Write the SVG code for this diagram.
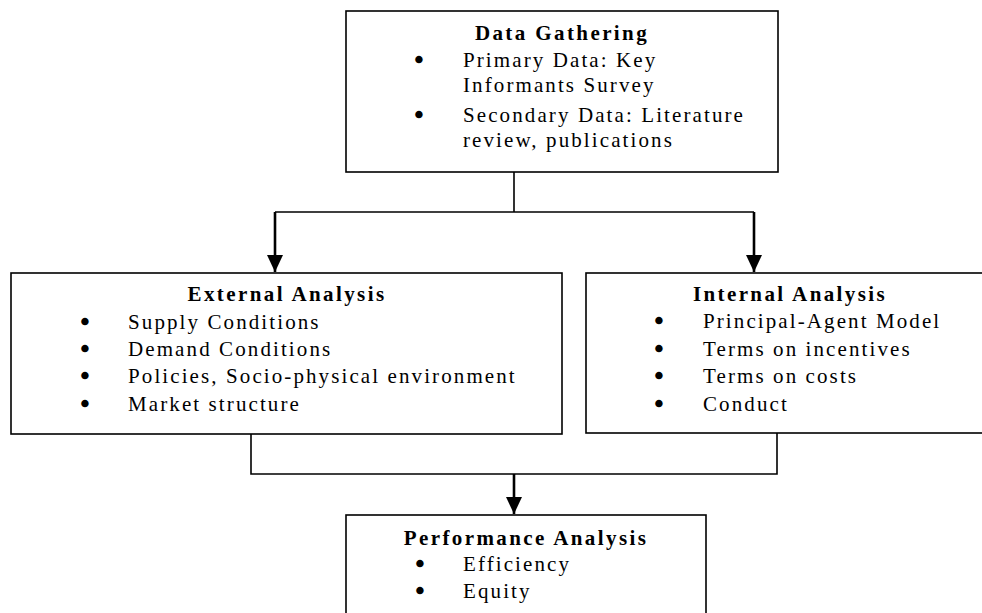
<svg xmlns="http://www.w3.org/2000/svg" width="982" height="613" viewBox="0 0 982 613">
<defs>
<style>
.box{fill:#fff;stroke:#000;stroke-width:1.6}
.t{font-family:"Liberation Serif","Times New Roman",serif;font-size:21px;letter-spacing:2.1px;fill:#000}
.h{font-family:"Liberation Serif","Times New Roman",serif;font-size:21px;font-weight:bold;letter-spacing:2.4px;fill:#000;text-anchor:middle}
.b{font-family:"Liberation Serif","Times New Roman",serif;font-size:21px;fill:#000;stroke:#000;stroke-width:2.4px;text-anchor:middle}
.ln{fill:none;stroke:#000;stroke-width:1.6}
.ar{fill:none;stroke:#000;stroke-width:2.6}
</style>
<marker id="ah" markerUnits="userSpaceOnUse" markerWidth="18" markerHeight="16" refX="17" refY="8" orient="auto">
<path d="M0,0 L17,8 L0,16 Z" fill="#000"/>
</marker>
</defs>
<rect width="982" height="613" fill="#fff"/>
<g id="connectors">
<path class="ln" d="M514,172 V212 M275,212 H754"/>
<path class="ar" d="M275,212 V272" marker-end="url(#ah)"/>
<path class="ar" d="M754,212 V272" marker-end="url(#ah)"/>
<path class="ln" d="M251,434 V474 H777 V433"/>
<path class="ar" d="M514,474 V514" marker-end="url(#ah)"/>
</g>
<g id="data-gathering">
<rect class="box" x="346" y="11" width="432" height="161"/>
<text class="h" x="562" y="40">Data Gathering</text>
<text class="b" x="419" y="67">•</text>
<text class="t" x="463" y="67">Primary Data: Key</text>
<text class="t" x="463" y="92">Informants Survey</text>
<text class="b" x="419" y="122">•</text>
<text class="t" x="463" y="122">Secondary Data: Literature</text>
<text class="t" x="463" y="147">review, publications</text>
</g>
<g id="external-analysis">
<rect class="box" x="11" y="273" width="551" height="161"/>
<text class="h" x="287" y="301">External Analysis</text>
<text class="b" x="85" y="329">•</text>
<text class="t" x="128" y="329">Supply Conditions</text>
<text class="b" x="85" y="356">•</text>
<text class="t" x="128" y="356">Demand Conditions</text>
<text class="b" x="85" y="383">•</text>
<text class="t" x="128" y="383">Policies, Socio-physical environment</text>
<text class="b" x="85" y="411">•</text>
<text class="t" x="128" y="411">Market structure</text>
</g>
<g id="internal-analysis">
<rect class="box" x="586" y="273" width="408" height="160"/>
<text class="h" x="790" y="301">Internal Analysis</text>
<text class="b" x="659" y="328">•</text>
<text class="t" x="703" y="328">Principal-Agent Model</text>
<text class="b" x="659" y="356">•</text>
<text class="t" x="703" y="356">Terms on incentives</text>
<text class="b" x="659" y="383">•</text>
<text class="t" x="703" y="383">Terms on costs</text>
<text class="b" x="659" y="411">•</text>
<text class="t" x="703" y="411">Conduct</text>
</g>
<g id="performance-analysis">
<rect class="box" x="346" y="515" width="360" height="110"/>
<text class="h" x="526" y="545">Performance Analysis</text>
<text class="b" x="420" y="571">•</text>
<text class="t" x="463" y="571">Efficiency</text>
<text class="b" x="420" y="598">•</text>
<text class="t" x="463" y="598">Equity</text>
</g>
</svg>
